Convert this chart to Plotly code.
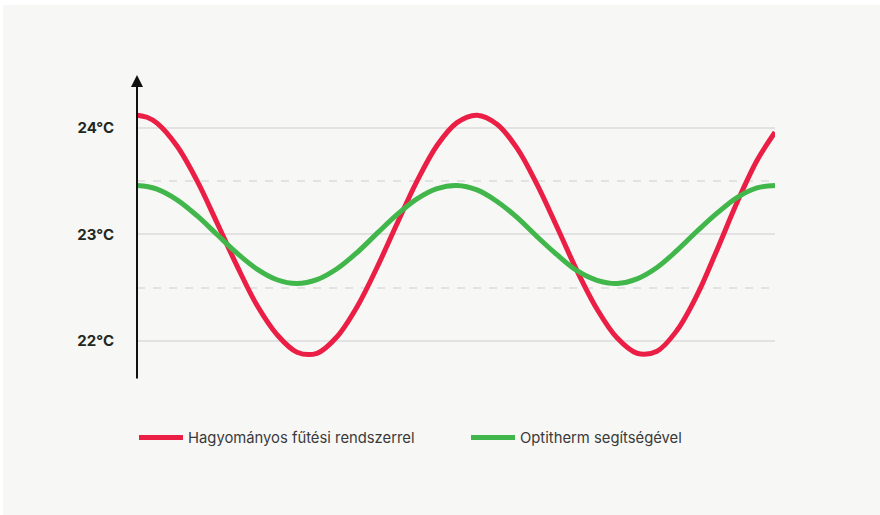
import plotly.graph_objects as go

# --- data ---
x_pos = [0, 10, 20, 40, 60, 80, 100, 120, 140, 160, 180, 200, 220, 240, 260, 280, 300,
         320, 340, 360, 380, 400, 420, 440, 460, 480, 500, 520, 540, 560, 580, 600, 620, 638]

red_temp = [24.12, 24.10, 24.045, 23.83, 23.505, 23.11, 22.705, 22.335, 22.06, 21.895, 21.885,
            22.04, 22.32, 22.69, 23.10, 23.50, 23.835, 24.05, 24.12, 24.035, 23.81,
            23.47, 23.07, 22.66, 22.30, 22.03, 21.885, 21.905, 22.10, 22.43, 22.855,
            23.30, 23.695, 23.96]

green_temp = [23.46, 23.45, 23.425, 23.325, 23.176, 23.0, 22.824, 22.675, 22.575, 22.54, 22.576,
              22.678, 22.83, 23.01, 23.186, 23.334, 23.43, 23.46, 23.418, 23.31, 23.16,
              22.98, 22.81, 22.66, 22.57, 22.54, 22.583, 22.69, 22.85, 23.03, 23.20,
              23.347, 23.437, 23.46]

series_names = ["Hagyományos fűtési rendszerrel", "Optitherm segítségével"]
tick_vals = [22, 23, 24]
tick_text = ["22°C", "23°C", "24°C"]
minor_vals = [22.5, 23.5]

Y_RANGE = [21.634, 24.497]
X_RANGE = [0, 638]

RED = "#eb1f45"
GREEN = "#41b64b"
BG = "#f7f7f5"

fig = go.Figure()
fig.add_trace(go.Scatter(x=x_pos, y=red_temp, mode="lines", name=series_names[0],
                         line=dict(color=RED, width=5, shape="spline", smoothing=1)))
fig.add_trace(go.Scatter(x=x_pos, y=green_temp, mode="lines", name=series_names[1],
                         line=dict(color=GREEN, width=5, shape="spline", smoothing=1)))

# Background card
fig.add_shape(type="rect", xref="paper", yref="paper",
              x0=(3 - 137) / 638, x1=1.5, y0=-0.6, y1=1 + 70 / 305,
              fillcolor=BG, line=dict(width=0), layer="below")

# Y axis arrow
fig.add_annotation(x=0, y=Y_RANGE[1], ax=0, ay=Y_RANGE[0], xref="x", yref="y",
                   axref="x", ayref="y", showarrow=True, arrowhead=2, arrowsize=1.2,
                   arrowwidth=2, arrowcolor="#111111", text="")

fig.update_layout(
    width=880, height=515,
    margin=dict(l=137, r=105, t=75, b=135),
    paper_bgcolor="white",
    plot_bgcolor="rgba(0,0,0,0)",
    font=dict(family="Inter, sans-serif", color="#3a3a3a"),
    showlegend=True,
    legend=dict(orientation="h", x=(134 - 137) / 638, y=-0.19,
                xanchor="left", yanchor="middle", itemwidth=44,
                entrywidth=273, entrywidthmode="pixels",
                font=dict(size=14.8, color="#3a3a3a"), bgcolor="rgba(0,0,0,0)"),
    xaxis=dict(range=X_RANGE, showgrid=False, zeroline=False, showticklabels=False,
               showline=False, fixedrange=True),
    yaxis=dict(range=Y_RANGE, tickmode="array", tickvals=tick_vals,
               ticktext=["<b>%s</b>" % t for t in tick_text],
               tickfont=dict(size=15, color="#222822"),
               ticklabelstandoff=22,
               showgrid=True, gridcolor="#e2e2e2", gridwidth=1.5,
               zeroline=False, showline=False,
               minor=dict(tickmode="array", tickvals=minor_vals, showgrid=True,
                          gridcolor="#e2e2e2", gridwidth=1.5, griddash="8px,8px"),
               fixedrange=True),
)

fig.write_html("out.html", config={"displayModeBar": False},
               post_script="document.body.style.margin='0';")
